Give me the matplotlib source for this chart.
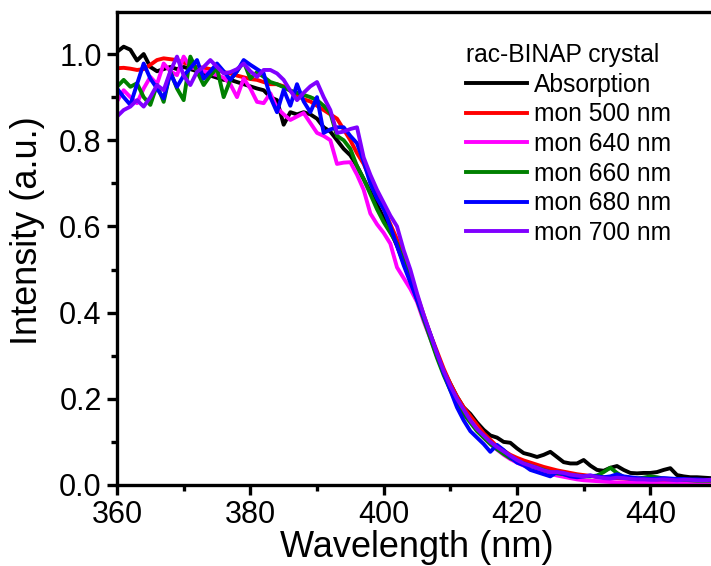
import numpy as np
import matplotlib
matplotlib.use('Agg')
import matplotlib.pyplot as plt
from matplotlib.ticker import MultipleLocator

plt.rcParams['font.family'] = ['Liberation Sans', 'DejaVu Sans']

# Longitud de onda (nm), paso de 1 nm
wavelength = np.arange(360, 451)

absorption = [
    1.005, 1.017, 1.01, 0.985, 1.0, 0.97, 0.96, 0.965, 0.97, 0.965,
    0.97, 0.965, 0.96, 0.955, 0.95, 0.945, 0.94, 0.94, 0.935, 0.93,
    0.925, 0.92, 0.916, 0.90, 0.893, 0.836, 0.865, 0.86, 0.865, 0.86,
    0.85, 0.83, 0.82, 0.80, 0.78, 0.765, 0.74, 0.71, 0.68, 0.65,
    0.62, 0.59, 0.555, 0.515, 0.475, 0.43, 0.385, 0.345, 0.30, 0.265,
    0.235, 0.205, 0.18, 0.165, 0.145, 0.128, 0.115, 0.11, 0.10, 0.098,
    0.085, 0.074, 0.07, 0.065, 0.07, 0.077, 0.065, 0.053, 0.05, 0.05,
    0.058, 0.045, 0.035, 0.033, 0.04, 0.044, 0.035, 0.028, 0.027, 0.028,
    0.028, 0.03, 0.035, 0.039, 0.023, 0.02, 0.018, 0.018, 0.017, 0.016, 0.015,
]

mon_500 = [
    0.967, 0.968, 0.966, 0.963, 0.965, 0.975, 0.986, 0.99, 0.988, 0.986,
    0.98, 0.975, 0.97, 0.968, 0.965, 0.963, 0.958, 0.955, 0.95, 0.946,
    0.942, 0.94, 0.935, 0.93, 0.93, 0.925, 0.915, 0.905, 0.895, 0.89,
    0.88, 0.87, 0.86, 0.85, 0.825, 0.80, 0.77, 0.745, 0.71, 0.675,
    0.64, 0.605, 0.57, 0.525, 0.485, 0.44, 0.395, 0.35, 0.31, 0.27,
    0.235, 0.205, 0.18, 0.16, 0.14, 0.12, 0.105, 0.09, 0.08, 0.07,
    0.063, 0.057, 0.052, 0.047, 0.042, 0.038, 0.034, 0.031, 0.028, 0.025,
    0.023, 0.021, 0.019, 0.018, 0.017, 0.016, 0.015, 0.014, 0.013, 0.012,
    0.012, 0.011, 0.011, 0.01, 0.01, 0.009, 0.009, 0.008, 0.008, 0.008, 0.007,
]

mon_640 = [
    0.89, 0.916, 0.90, 0.886, 0.92, 0.947, 0.93, 0.978, 0.96, 0.951,
    0.994, 0.97, 0.965, 0.96, 0.955, 0.951, 0.945, 0.93, 0.90, 0.943,
    0.92, 0.889, 0.886, 0.909, 0.875, 0.86, 0.847, 0.855, 0.863, 0.84,
    0.817, 0.81, 0.80, 0.745, 0.748, 0.749, 0.72, 0.685, 0.63, 0.605,
    0.585, 0.56, 0.505, 0.48, 0.455, 0.425, 0.38, 0.34, 0.30, 0.26,
    0.225, 0.195, 0.17, 0.15, 0.13, 0.11, 0.095, 0.082, 0.07, 0.06,
    0.052, 0.045, 0.04, 0.035, 0.03, 0.026, 0.022, 0.019, 0.016, 0.013,
    0.011, 0.01, 0.009, 0.008, 0.007, 0.006, 0.006, 0.005, 0.005, 0.005,
    0.005, 0.004, 0.004, 0.004, 0.004, 0.003, 0.003, 0.003, 0.003, 0.003, 0.003,
]

mon_660 = [
    0.924, 0.94, 0.924, 0.932, 0.90, 0.882, 0.928, 0.889, 0.959, 0.92,
    0.893, 0.994, 0.96, 0.928, 0.95, 0.967, 0.90, 0.94, 0.96, 0.982,
    0.943, 0.958, 0.947, 0.935, 0.93, 0.923, 0.915, 0.91, 0.905, 0.90,
    0.893, 0.88, 0.863, 0.81, 0.80, 0.78, 0.74, 0.71, 0.675, 0.64,
    0.61, 0.585, 0.56, 0.52, 0.48, 0.43, 0.385, 0.34, 0.295, 0.255,
    0.22, 0.19, 0.165, 0.145, 0.125, 0.11, 0.095, 0.083, 0.072, 0.062,
    0.055, 0.05, 0.045, 0.04, 0.035, 0.03, 0.027, 0.025, 0.023, 0.022,
    0.02, 0.02, 0.022, 0.03, 0.04, 0.028, 0.018, 0.015, 0.015, 0.017,
    0.02, 0.018, 0.015, 0.014, 0.013, 0.012, 0.011, 0.01, 0.01, 0.01, 0.01,
]

mon_680 = [
    0.92, 0.90, 0.882, 0.93, 0.978, 0.943, 0.92, 0.897, 0.955, 0.924,
    0.95, 0.967, 0.986, 0.943, 0.96, 0.978, 0.96, 0.94, 0.96, 0.986,
    0.975, 0.965, 0.955, 0.90, 0.865, 0.917, 0.88, 0.93, 0.89, 0.865,
    0.90, 0.817, 0.825, 0.83, 0.83, 0.81, 0.793, 0.75, 0.70, 0.665,
    0.64, 0.60, 0.555, 0.51, 0.47, 0.43, 0.39, 0.35, 0.305, 0.26,
    0.22, 0.18, 0.15, 0.125, 0.11, 0.095, 0.077, 0.093, 0.081, 0.065,
    0.052, 0.046, 0.035, 0.03, 0.025, 0.02, 0.03, 0.025, 0.02, 0.018,
    0.02, 0.022, 0.02, 0.018, 0.02, 0.025, 0.02, 0.018, 0.016, 0.015,
    0.014, 0.015, 0.016, 0.015, 0.014, 0.014, 0.013, 0.013, 0.012, 0.012, 0.012,
]

mon_700 = [
    0.855, 0.87, 0.878, 0.893, 0.878, 0.90, 0.928, 0.916, 0.96, 0.994,
    0.95, 0.928, 0.959, 0.97, 0.986, 0.97, 0.955, 0.958, 0.965, 0.978,
    0.96, 0.947, 0.963, 0.963, 0.955, 0.94, 0.915, 0.893, 0.91, 0.925,
    0.935, 0.90, 0.87, 0.817, 0.82, 0.826, 0.83, 0.76, 0.72, 0.685,
    0.655, 0.625, 0.60, 0.545, 0.50, 0.445, 0.395, 0.35, 0.305, 0.265,
    0.23, 0.20, 0.175, 0.15, 0.13, 0.115, 0.10, 0.088, 0.078, 0.068,
    0.058, 0.05, 0.045, 0.04, 0.034, 0.03, 0.03, 0.028, 0.024, 0.022,
    0.02, 0.022, 0.018, 0.016, 0.015, 0.017, 0.016, 0.014, 0.013, 0.013,
    0.012, 0.012, 0.013, 0.012, 0.011, 0.012, 0.012, 0.011, 0.011, 0.012, 0.013,
]

series = [
    ('Absorption', absorption, 'black'),
    ('mon 500 nm', mon_500, '#ff0000'),
    ('mon 640 nm', mon_640, '#ff00ff'),
    ('mon 660 nm', mon_660, '#008000'),
    ('mon 680 nm', mon_680, '#0000ff'),
    ('mon 700 nm', mon_700, '#8000ff'),
]

fig = plt.figure(figsize=(7.11, 5.66), dpi=100)
# el eje derecho queda ligeramente fuera de la figura, como en la original
ax = fig.add_axes([117 / 711, 1 - 485 / 566, 600 / 711, 473 / 566])

for nombre, valores, color in series:
    ax.plot(wavelength, valores, color=color, linewidth=2.8, label=nombre)

ax.set_xlim(360, 450)
ax.set_ylim(0, 1.0975)
ax.xaxis.set_major_locator(MultipleLocator(20))
ax.xaxis.set_minor_locator(MultipleLocator(10))
ax.yaxis.set_major_locator(MultipleLocator(0.2))
ax.yaxis.set_minor_locator(MultipleLocator(0.1))
ax.yaxis.set_major_formatter(matplotlib.ticker.FormatStrFormatter('%.1f'))

for lado in ['left', 'bottom', 'top', 'right']:
    ax.spines[lado].set_linewidth(2.4)
ax.tick_params(which='major', direction='out', length=7, width=2.4,
               labelsize=22, pad=4)
ax.tick_params(which='minor', direction='out', length=4.5, width=2.4)

ax.set_xlabel('Wavelength (nm)', fontsize=26)
ax.set_ylabel('Intensity (a.u.)', fontsize=26)
ax.xaxis.set_label_coords(0.499, -0.095)
ax.yaxis.set_label_coords(-0.12, 0.537)

leg = ax.legend(title='rac-BINAP crystal', loc='upper left',
                bbox_to_anchor=(466 / 711, 1 - 43 / 566),
                bbox_transform=fig.transFigure, frameon=False,
                fontsize=17.7, title_fontsize=17.7, handlelength=2.5,
                handletextpad=0.25, labelspacing=0.23, borderpad=0,
                borderaxespad=0, alignment='left')

fig.savefig('out.png', dpi=100)
